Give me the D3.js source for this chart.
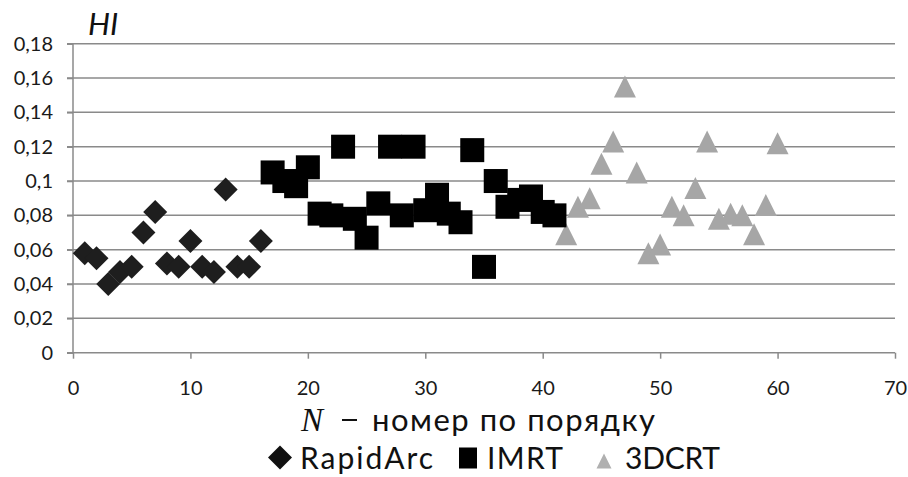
<!DOCTYPE html>
<html>
<head>
<meta charset="utf-8">
<script src="https://cdn.jsdelivr.net/npm/d3@7"></script>
<style>
  html, body { margin: 0; padding: 0; background: #fff; }
  svg { display: block; font-family: Lato, "Open Sans", sans-serif; }
</style>
</head>
<body>
<div id="chart"></div>
<script>
// ---- Data ----
const rapidArcN  = [1, 2, 3, 4, 5, 6, 7, 8, 9, 10, 11, 12, 13, 14, 15, 16];
const rapidArcHI = [0.058, 0.055, 0.040, 0.047, 0.050, 0.070, 0.082, 0.052, 0.050, 0.065, 0.050, 0.047, 0.095, 0.050, 0.050, 0.065];

const imrtN  = [17, 18, 19, 20, 21, 22, 23, 24, 25, 26, 27, 28, 29, 30, 31, 32, 33, 34, 35, 36, 37, 38, 39, 40, 41];
const imrtHI = [0.105, 0.100, 0.097, 0.108, 0.081, 0.080, 0.120, 0.078, 0.067, 0.087, 0.120, 0.080, 0.120, 0.083, 0.092, 0.081, 0.076, 0.118, 0.050, 0.100, 0.085, 0.089, 0.091, 0.082, 0.080];

const crtN  = [42, 43, 44, 45, 46, 47, 48, 49, 50, 51, 52, 53, 54, 55, 56, 57, 58, 59, 60];
const crtHI = [0.069, 0.085, 0.090, 0.110, 0.123, 0.155, 0.105, 0.058, 0.063, 0.085, 0.080, 0.096, 0.123, 0.078, 0.081, 0.080, 0.069, 0.086, 0.122];

const yTicks = [0, 0.02, 0.04, 0.06, 0.08, 0.1, 0.12, 0.14, 0.16, 0.18];
const yTickLabels = ['0', '0,02', '0,04', '0,06', '0,08', '0,1', '0,12', '0,14', '0,16', '0,18'];
const xTicks = [0, 10, 20, 30, 40, 50, 60, 70];

const seriesNames = ['RapidArc', 'IMRT', '3DCRT'];

// ---- Setup ----
const W = 908, H = 477;
const plot = { left: 73, right: 895, top: 43.7, bottom: 352.7 };

const svg = d3.select('#chart').append('svg')
  .attr('width', W).attr('height', H);

const x = d3.scaleLinear().domain([0, 70]).range([plot.left, plot.right]);
const y = d3.scaleLinear().domain([0, 0.18]).range([plot.bottom, plot.top]);

const gridColor = '#8a8a8a';

// ---- Grid lines ----
svg.append('g')
  .selectAll('line').data(yTicks.filter(d => d > 0)).join('line')
  .attr('x1', plot.left - 6).attr('x2', plot.right)
  .attr('y1', d => y(d)).attr('y2', d => y(d))
  .attr('stroke', gridColor).attr('stroke-width', 1.5);

// ---- Axes ----
const yAxis = svg.append('g')
  .attr('transform', `translate(${plot.left},0)`)
  .call(d3.axisLeft(y).tickValues(yTicks).tickSize(6).tickPadding(14)
    .tickFormat((d, i) => yTickLabels[i]));
yAxis.selectAll('line, path').attr('stroke', gridColor).attr('stroke-width', 1.5);
yAxis.select('.domain').attr('d', `M0,${plot.top}V${plot.bottom}`);
yAxis.selectAll('text').attr('font-size', 20).attr('fill', '#1a1a1a')
  .attr('font-family', 'Lato, sans-serif');

const xAxis = svg.append('g')
  .attr('transform', `translate(0,${plot.bottom})`)
  .call(d3.axisBottom(x).tickValues(xTicks).tickSize(6).tickPadding(22)
    .tickFormat(d3.format('d')));
xAxis.selectAll('line, path').attr('stroke', gridColor).attr('stroke-width', 1.5);
xAxis.select('.domain').attr('d', `M${plot.left - 6},0H${plot.right}`);
xAxis.selectAll('text').attr('font-size', 20).attr('fill', '#1a1a1a')
  .attr('font-family', 'Lato, sans-serif');

// ---- Markers ----
const diamond = s => `M0,${-s}L${s},0L0,${s}L${-s},0Z`;
const triangle = s => `M0,${-s}L${s},${s}L${-s},${s}Z`;

svg.append('g').selectAll('path').data(d3.zip(crtN, crtHI)).join('path')
  .attr('transform', d => `translate(${x(d[0])},${y(d[1])})`)
  .attr('d', triangle(11))
  .attr('fill', '#a6a6a6');

svg.append('g').selectAll('rect').data(d3.zip(imrtN, imrtHI)).join('rect')
  .attr('x', d => x(d[0]) - 12).attr('y', d => y(d[1]) - 12)
  .attr('width', 24).attr('height', 24)
  .attr('fill', '#000');

svg.append('g').selectAll('path').data(d3.zip(rapidArcN, rapidArcHI)).join('path')
  .attr('transform', d => `translate(${x(d[0])},${y(d[1])})`)
  .attr('d', diamond(12))
  .attr('fill', '#1e1e1e');

// ---- Axis titles ----
svg.append('text')
  .attr('x', 88).attr('y', 35)
  .attr('font-size', 31).attr('font-style', 'italic')
  .attr('fill', '#111')
  .text('HI');

const titleG = svg.append('g').attr('fill', '#111');
titleG.append('text')
  .attr('x', 301).attr('y', 431)
  .attr('font-family', '"Liberation Serif", "DejaVu Serif", serif')
  .attr('font-style', 'italic').attr('font-size', 33)
  .text('N');
titleG.append('rect')  // the minus sign of the title
  .attr('x', 342).attr('y', 419).attr('width', 15).attr('height', 2);
titleG.append('text')
  .attr('x', 372).attr('y', 431)
  .attr('font-size', 31)
  .attr('textLength', 283).attr('lengthAdjust', 'spacing')
  .text('номер по порядку');

// ---- Legend ----
const legend = svg.append('g').attr('font-size', 30).attr('fill', '#111');
const legY = 468.5;

legend.append('path')
  .attr('transform', `translate(280,${legY - 11})`)
  .attr('d', diamond(12)).attr('fill', '#111');
legend.append('text').attr('x', 300).attr('y', legY)
  .attr('textLength', 133).attr('lengthAdjust', 'spacing')
  .text(seriesNames[0]);

legend.append('rect')
  .attr('x', 459).attr('y', legY - 21).attr('width', 18).attr('height', 21)
  .attr('fill', '#000');
legend.append('text').attr('x', 487).attr('y', legY)
  .attr('textLength', 76).attr('lengthAdjust', 'spacing')
  .text(seriesNames[1]);

legend.append('path')
  .attr('transform', `translate(604,${legY - 7.5})`)
  .attr('d', triangle(7.5)).attr('fill', '#b0b0b0');
legend.append('text').attr('x', 625).attr('y', legY)
  .attr('textLength', 95).attr('lengthAdjust', 'spacing')
  .text(seriesNames[2]);
</script>
</body>
</html>
